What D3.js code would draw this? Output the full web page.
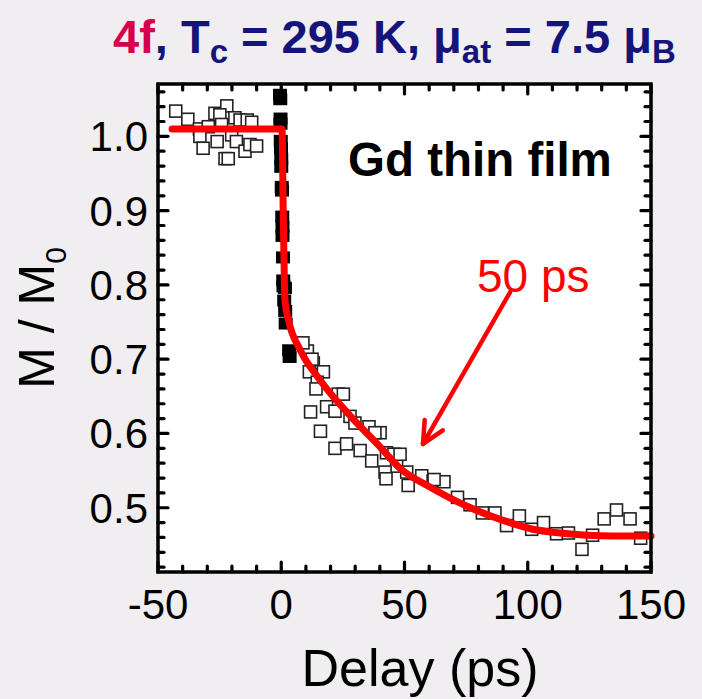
<!DOCTYPE html>
<html><head><meta charset="utf-8">
<script src="https://cdn.jsdelivr.net/npm/d3@7/dist/d3.min.js"></script>
<style>html,body{margin:0;padding:0;background:#f0eef0;}svg{display:block;}</style>
</head><body><div id="chart"></div>
<script>
// ---- data ----
const openT = [-42.8,-37.9,-33.2,-26.9,-22.1,-24.9,-18.8,-16.7,-13.8,-12.0,-29.6,-24.2,-20.1,-33.0,-31.7,-26.0,-18.2,-14.7,-12.7,-10.0,-22.8,-21.5,
  10.6,13.0,11.4,17.1,14.6,14.1,23.1,25.2,18.4,11.9,21.8,27.9,29.9,35.6,40.1,38.0,15.9,21.8,26.5,32.0,36.7,42.7,45.7,46.8,42.1,42.5,57.0,61.6,66.0,51.5,
  48.2,50.9,62.0,71.5,76.6,81.6,86.7,91.4,96.6,101.6,106.4,111.7,116.5,122.0,126.3,131.0,136.0,141.5,145.8,8.8,12.5];
const openV = [1.034,1.023,1.010,1.031,1.041,1.029,1.025,1.022,1.022,1.019,1.013,1.016,1.002,1.000,0.984,0.993,0.993,0.980,0.989,0.987,0.970,0.970,
  0.711,0.695,0.683,0.683,0.669,0.660,0.653,0.653,0.636,0.629,0.630,0.623,0.614,0.609,0.601,0.601,0.603,0.580,0.586,0.577,0.563,0.574,0.572,0.556,0.548,0.539,0.543,0.536,0.535,0.530,
  0.572,0.548,0.538,0.514,0.504,0.493,0.493,0.476,0.489,0.471,0.480,0.465,0.466,0.444,0.463,0.485,0.497,0.485,0.459,0.722,0.700];
const fineT = [-0.5,-0.4,-0.3,-0.3,-0.2,-0.1,0.0,0.0,0.2,0.3,0.4,0.5,0.5,0.7,0.8,0.9,1.5,1.2,1.6,1.8,3.2,3.4];
const fineV = [1.056,1.050,1.024,1.017,0.994,0.984,0.970,0.959,0.932,0.927,0.892,0.878,0.866,0.837,0.806,0.798,0.796,0.779,0.765,0.748,0.712,0.703];
const fitT = [-44.3,0.3,0.8,1.5,3,7.6,15.7,27.9,40.1,48.2,60.3,75.4,90,102,113,124,135,150];
const fitV = [1.010,1.010,0.900,0.780,0.752,0.713,0.672,0.624,0.582,0.553,0.528,0.502,0.483,0.471,0.466,0.463,0.462,0.462];
const xTicks = [-50,0,50,100,150];
const yTicks = [0.5,0.6,0.7,0.8,0.9,1.0];
const arrowFrom = [92.8,0.790];
const arrowTo = [57.5,0.586];

// ---- layout ----
const W=702,H=699;
const L=158,R=651,T=84,B=572;
const svg=d3.select("#chart").append("svg").attr("width",W).attr("height",H);
svg.append("rect").attr("width",W).attr("height",H).attr("fill","#f0eef0");
const x=d3.scaleLinear().domain([-50,150]).range([L,R]);
const y=d3.scaleLinear().domain([0.4135,1.0705]).range([B,T]);
svg.append("rect").attr("x",L).attr("y",T).attr("width",R-L).attr("height",B-T).attr("fill","#fff");

const font="'Liberation Sans', Arial, sans-serif";

// ticks
const tickG=svg.append("g").attr("stroke","#000").attr("stroke-width",3.2).attr("stroke-linecap","round");
const xMinor=d3.range(-50,151,10), yMinor=d3.range(0.42,1.071,0.02);
xMinor.forEach(v=>{
  const major=xTicks.some(t=>Math.abs(t-v)<1e-6); const len=major?10:6;
  tickG.append("line").attr("x1",x(v)).attr("x2",x(v)).attr("y1",B).attr("y2",B-len);
  tickG.append("line").attr("x1",x(v)).attr("x2",x(v)).attr("y1",T).attr("y2",T+len);
});
yMinor.forEach(v=>{
  const major=yTicks.some(t=>Math.abs(t-v)<1e-6); const len=major?10:6;
  tickG.append("line").attr("y1",y(v)).attr("y2",y(v)).attr("x1",L).attr("x2",L+len);
  tickG.append("line").attr("y1",y(v)).attr("y2",y(v)).attr("x1",R).attr("x2",R-len);
});

// open squares
const s=12;
svg.append("g").selectAll("rect").data(openT.map((t,i)=>[t,openV[i]])).join("rect")
  .attr("x",d=>x(d[0])-s/2).attr("y",d=>y(d[1])-s/2).attr("width",s).attr("height",s)
  .attr("fill","#fff").attr("stroke","#222").attr("stroke-width",1.6);
// filled squares
svg.append("g").selectAll("rect").data(fineT.map((t,i)=>[t,fineV[i]])).join("rect")
  .attr("x",d=>x(d[0])-7).attr("y",d=>y(d[1])-6).attr("width",14).attr("height",12)
  .attr("fill","#000");
// fit
svg.append("path").datum(fitT.map((t,i)=>[t,fitV[i]]))
  .attr("d",d3.line().x(d=>x(d[0])).y(d=>y(d[1])).curve(d3.curveMonotoneX))
  .attr("fill","none").attr("stroke","#ff0000").attr("stroke-width",7).attr("stroke-linejoin","round").attr("stroke-linecap","round");

// frame
svg.append("rect").attr("x",L).attr("y",T).attr("width",R-L).attr("height",B-T)
  .attr("fill","none").attr("stroke","#000").attr("stroke-width",3.5);

// arrow
const ax0=x(arrowFrom[0]),ay0=y(arrowFrom[1]),ax1=x(arrowTo[0]),ay1=y(arrowTo[1]);
const ang=Math.atan2(ay0-ay1,ax0-ax1);
const ag=svg.append("g").attr("stroke","#ff0000").attr("stroke-width",4.5).attr("stroke-linecap","round").attr("fill","none");
ag.append("line").attr("x1",ax0).attr("y1",ay0).attr("x2",ax1).attr("y2",ay1);
[-0.45,0.45].forEach(da=>{
  ag.append("line").attr("x1",ax1).attr("y1",ay1)
    .attr("x2",ax1+24*Math.cos(ang+da)).attr("y2",ay1+24*Math.sin(ang+da));
});

// tick labels
svg.append("g").selectAll("text").data(xTicks).join("text")
  .attr("x",d=>x(d)).attr("y",619).attr("text-anchor","middle")
  .attr("font-family",font).attr("font-size",42).attr("fill","#000").text(d=>d);
svg.append("g").selectAll("text").data(yTicks).join("text")
  .attr("x",148).attr("y",d=>y(d)+15).attr("text-anchor","end")
  .attr("font-family",font).attr("font-size",42).attr("fill","#000").text(d=>d.toFixed(1));

// axis titles
svg.append("text").attr("x",420).attr("y",686).attr("text-anchor","middle")
  .attr("font-family",font).attr("font-size",52).attr("fill","#000").text("Delay (ps)");
const yl=svg.append("text").attr("transform","translate(54,318) rotate(-90)").attr("text-anchor","middle")
  .attr("font-family",font).attr("font-size",50).attr("fill","#000");
yl.append("tspan").text("M / M");
yl.append("tspan").attr("font-size",30).attr("dy",12).text("0");

// annotations
svg.append("text").attr("x",348).attr("y",176).attr("font-family",font).attr("font-weight","bold")
  .attr("font-size",47.5).attr("fill","#000").text("Gd thin film");
svg.append("text").attr("x",477).attr("y",292).attr("font-family",font)
  .attr("font-size",46).attr("fill","#ff0000").text("50 ps");

// title
const navy="#14147a", crim="#d6004f";
const tt=svg.append("text").attr("x",113).attr("y",53).attr("font-family",font).attr("font-weight","bold").attr("font-size",47).attr("fill",navy);
tt.append("tspan").attr("fill",crim).text("4f");
tt.append("tspan").text(", T");
tt.append("tspan").attr("font-size",33).attr("dy",10).text("c");
tt.append("tspan").attr("dy",-10).text(" = 295 K, μ");
tt.append("tspan").attr("font-size",33).attr("dy",10).text("at");
tt.append("tspan").attr("dy",-10).text(" = 7.5 μ");
tt.append("tspan").attr("font-size",33).attr("dy",10).text("B");
</script></body></html>
